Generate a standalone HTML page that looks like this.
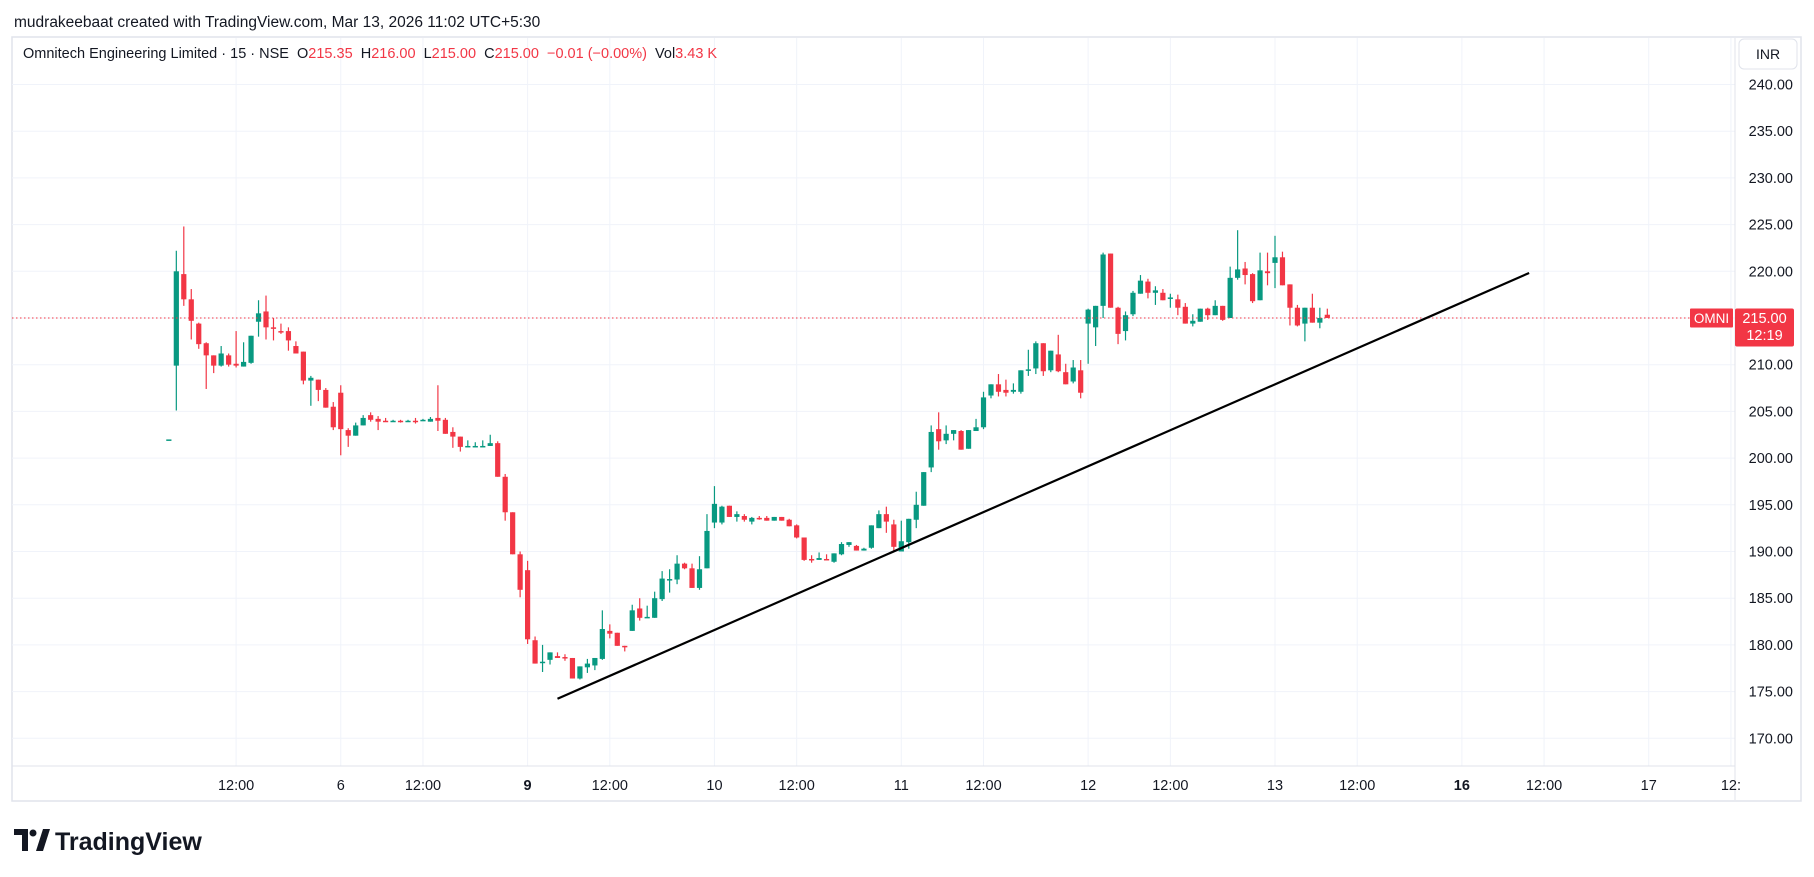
<!DOCTYPE html>
<html><head><meta charset="utf-8"><style>
html,body{margin:0;padding:0;background:#fff;width:1814px;height:877px;overflow:hidden}
svg{display:block;font-family:"Liberation Sans",sans-serif}
</style></head><body>
<svg id="chart" width="1814" height="877" viewBox="0 0 1814 877" xmlns="http://www.w3.org/2000/svg">
<text x="14" y="27" font-size="15.5" fill="#131722">mudrakeebaat created with TradingView.com, Mar 13, 2026 11:02 UTC+5:30</text>
<rect x="12" y="37" width="1789" height="764" fill="#fff" stroke="#e0e3eb" stroke-width="1.5"/>
<g id="grid"></g>
<line x1="1735" y1="38" x2="1735" y2="800" stroke="#e0e3eb"/>
<line x1="12" y1="766" x2="1735" y2="766" stroke="#e0e3eb"/>
<g id="candles"></g>
<g id="overlay"></g>
<g id="axes"></g>
<text x="23" y="58" font-size="14.5" fill="#131722" style="white-space:pre" xml:space="preserve">Omnitech Engineering Limited · 15 · NSE  O<tspan fill="#f23645">215.35</tspan>  H<tspan fill="#f23645">216.00</tspan>  L<tspan fill="#f23645">215.00</tspan>  C<tspan fill="#f23645">215.00</tspan>  <tspan fill="#f23645">−0.01 (−0.00%)</tspan>  Vol<tspan fill="#f23645">3.43 K</tspan></text>
<g>
<rect x="1739" y="39" width="58" height="30" rx="5" fill="#fff" stroke="#e0e3eb"/>
<text x="1768" y="59" font-size="14" fill="#131722" text-anchor="middle">INR</text>
</g>
<g>
<path d="M14 829 h14 v22 h-6 v-16 h-8z" fill="#131722"/>
<circle cx="33" cy="833" r="3.5" fill="#131722"/>
<path d="M36 851 l7 -22 h7 l-7 22z" fill="#131722"/>
<text x="55" y="850" font-size="25" font-weight="bold" fill="#131722">TradingView</text>
</g>
</svg>
<script>
const startIndex = 2;
const opens = [202.0,209.9,219.7,217.0,214.4,212.3,211.0,209.9,211.0,210.1,209.8,210.2,214.6,215.7,214.0,213.6,213.6,212.0,211.4,208.3,208.4,207.3,205.5,
207.0,203.0,202.4,203.5,204.6,204.2,204.0,203.9,204.0,203.9,204.0,204.0,203.9,204.3,204.1,202.8,202.3,201.2,201.2,201.2,201.3,201.6,198.0,194.2,189.7,
188.0,180.5,178.1,178.4,178.8,178.7,178.6,176.4,177.6,177.8,178.5,181.5,181.3,179.9,181.5,183.9,182.9,182.9,184.9,187.0,187.0,188.7,188.2,186.1,188.2,
193.1,193.1,194.9,193.7,193.8,193.2,193.6,193.6,193.3,193.7,193.4,192.8,191.5,189.2,189.1,189.2,188.9,189.7,190.7,190.6,190.1,190.4,192.5,194.0,192.9,
190.0,191.0,193.4,194.9,199.0,203.1,201.9,202.6,202.9,201.0,202.9,203.3,206.7,207.9,207.3,207.1,207.1,209.4,209.6,212.3,209.4,211.1,209.2,208.2,209.4,
214.4,214.0,216.3,221.9,216.1,213.6,215.4,217.6,218.9,217.7,217.7,217.15,217.0,216.2,214.4,214.6,216.0,215.3,216.3,215.0,219.3,220.3,219.7,216.9,220.0,
220.9,221.5,218.6,216.1,214.4,216.1,214.5,215.35];
const highs = [202.0,222.2,224.8,218.1,214.5,212.4,211.0,212.0,211.2,213.6,212.4,213.1,216.9,217.4,215.0,214.4,214.0,212.5,211.4,208.8,208.4,207.5,206.0,
207.8,203.2,203.8,204.6,204.9,204.5,204.3,204.1,204.1,204.1,204.3,204.2,204.4,207.8,204.3,203.3,202.3,201.9,201.7,201.9,202.5,201.8,198.3,194.2,190.0,
189.0,180.9,180.0,179.2,179.2,179.0,178.6,177.7,178.5,178.6,183.7,182.2,181.3,179.9,184.3,185.0,184.2,185.7,187.9,188.1,189.6,188.8,188.7,189.5,194.0,
197.0,194.9,194.9,194.3,194.0,193.7,193.8,193.8,193.7,193.7,193.5,192.9,191.5,189.6,189.9,189.7,189.8,191.0,191.0,190.7,190.4,192.8,194.4,194.8,193.4,
193.3,193.5,196.4,198.5,203.5,204.9,203.5,203.0,203.0,203.0,204.2,207.1,207.9,209.0,208.4,208.0,209.4,211.6,212.5,212.3,211.5,213.2,210.1,210.5,210.5,
216.0,216.3,222.0,221.9,216.2,215.7,217.9,219.6,219.2,218.4,218.1,217.6,217.5,216.6,215.4,216.0,216.1,216.9,216.3,220.5,224.4,221.0,219.8,222.0,222.0,
223.8,222.1,218.6,216.4,216.1,217.6,216.1,216.0];
const lows = [202.0,205.1,216.3,212.7,211.7,207.4,209.1,209.8,209.8,209.7,209.8,210.1,213.0,212.7,212.6,213.3,211.5,211.2,207.9,205.6,206.1,205.4,203.0,
200.3,201.2,202.4,203.5,203.9,203.0,203.9,203.9,203.8,203.9,203.7,204.0,203.9,202.9,202.6,201.1,200.7,201.2,201.2,201.2,201.3,198.0,193.3,189.7,185.1,
180.1,178.0,177.1,177.9,178.6,178.3,176.4,176.3,177.0,177.3,178.4,180.7,179.9,179.3,181.5,182.6,182.9,182.9,184.7,185.6,186.5,188.1,186.1,185.9,188.2,
192.5,192.9,193.7,193.2,193.2,192.9,193.4,193.3,193.3,193.3,192.7,191.4,189.0,188.8,189.1,189.1,188.8,189.6,190.5,190.1,190.1,190.3,192.5,192.0,190.1,
190.0,190.3,192.5,194.9,198.5,200.9,201.5,201.9,200.9,201.0,202.9,203.1,206.4,206.6,206.6,206.9,206.9,208.8,209.0,208.8,209.2,209.2,207.9,208.0,206.4,
210.1,212.0,215.0,216.1,212.2,212.6,215.2,217.6,217.1,216.4,216.9,216.1,215.3,214.4,214.1,214.6,214.8,215.3,214.7,215.0,219.1,218.6,216.6,216.9,218.5,
218.2,218.5,214.2,214.1,212.5,214.5,213.9,215.0];
const closes = [202.0,220.0,217.0,214.7,212.2,211.0,209.9,211.2,210.0,209.9,210.3,213.1,215.5,214.0,213.9,213.5,212.6,211.2,208.3,208.6,207.3,205.4,203.3,
203.1,202.4,203.5,204.3,204.1,203.9,203.9,204.0,203.9,204.0,203.9,204.1,204.2,204.0,202.6,202.3,201.2,201.3,201.3,201.3,201.6,198.0,194.2,189.7,185.9,
180.6,178.0,178.2,179.2,178.6,178.6,176.4,177.7,178.0,178.6,181.7,181.2,179.9,179.8,183.7,182.9,183.0,185.0,187.1,187.05,188.7,188.2,186.1,188.1,192.2,
195.1,194.8,193.7,194.0,193.4,193.6,193.5,193.3,193.7,193.3,192.7,191.5,189.1,189.1,189.3,189.1,189.8,190.8,191.0,190.1,190.3,192.8,194.0,193.2,190.5,
191.1,193.5,195.0,198.5,202.8,201.8,202.6,203.0,200.9,203.0,203.3,206.5,207.9,207.1,207.0,207.3,209.4,209.5,212.3,209.3,211.5,209.3,207.9,209.7,207.0,
215.9,216.3,221.8,216.1,213.3,215.3,217.7,219.0,217.7,217.96,216.9,217.2,216.1,214.4,214.7,216.0,215.3,216.3,214.8,219.3,220.2,219.6,216.8,220.1,219.8,
221.5,218.5,216.1,214.2,216.1,214.5,215.0,215.0];
const priceTicks = [240,235,230,225,220,215,210,205,200,195,190,185,180,175,170];
const timeTickIndex = [11,25,36,50,61,75,86,100,111,125,136,150,161,175,186,200,211];
const timeTickLabels = ["12:00","6","12:00","9","12:00","10","12:00","11","12:00","12","12:00","13","12:00","16","12:00","17","12:"];
const timeTickBold = [false,false,false,true,false,false,false,false,false,false,false,false,false,true,false,false,false];
const trendIndex = [54.0,184.0];
const trendPrice = [174.23,219.82];
const lastPrice = 215.00;

const NS="http://www.w3.org/2000/svg";
function xs(i){return 153.9+i*7.474;}
function ys(p){return 84.5+(240-p)*9.34;}
function mk(tag,attrs,parent){const e=document.createElementNS(NS,tag);for(const k in attrs)e.setAttribute(k,attrs[k]);parent.appendChild(e);return e;}
const grid=document.getElementById('grid'),cg=document.getElementById('candles'),ov=document.getElementById('overlay'),ax=document.getElementById('axes');
priceTicks.forEach(p=>{
  const l=mk('line',{x1:12,x2:1735,y1:ys(p),y2:ys(p),stroke:'#f0f3fa','stroke-width':1},grid);
  
  
  const t=mk('text',{x:1793,y:ys(p)+5,'font-size':14.5,fill:'#131722','text-anchor':'end'},ax);
  t.textContent=p.toFixed(2);
  
  
});
timeTickIndex.forEach((i,k)=>{
  const x=xs(i);
  if(x<1735){const l=mk('line',{x1:x,x2:x,y1:38,y2:766,stroke:'#f0f3fa','stroke-width':1},grid);
  
  }
  const t=mk('text',{x:x,y:790,'font-size':14.5,fill:'#131722','text-anchor':'middle','font-weight':timeTickBold[k]?'bold':'normal'},ax);
  t.textContent=timeTickLabels[k];
  
  
});
opens.forEach((o,k)=>{
  const i=startIndex+k,c=closes[k],h=highs[k],lo=lows[k];
  const col=c>=o?'#089981':'#f23645';const x=xs(i);
  const w=mk('line',{x1:x,x2:x,y1:ys(h),y2:ys(lo),stroke:col,'stroke-width':1.2},cg);
  
  
  const top=ys(Math.max(o,c)),bh=Math.max(1.5,Math.abs(ys(o)-ys(c)));
  const b=mk('rect',{x:x-2.6,y:top,width:5.2,height:bh,fill:col},cg);
  
  
});
const pl=mk('line',{x1:12,x2:1690,y1:ys(lastPrice),y2:ys(lastPrice),stroke:'#f23645','stroke-width':1,'stroke-dasharray':'1.5 2.5'},ov);


const tl=mk('line',{x1:xs(trendIndex[0]),y1:ys(trendPrice[0]),x2:xs(trendIndex[1]),y2:ys(trendPrice[1]),stroke:'#000','stroke-width':2.2},ov);


const yl=ys(lastPrice);
const tag=mk('rect',{x:1690,y:yl-9.5,width:43,height:19,fill:'#f23645',rx:1},ax);


const tt=mk('text',{x:1711.5,y:yl+5,'font-size':13.5,fill:'#fff','text-anchor':'middle'},ax);tt.textContent='OMNI';


const pb=mk('rect',{x:1735,y:yl-9.5,width:59,height:38,fill:'#f23645',rx:2},ax);


const pt=mk('text',{x:1764.5,y:yl+5,'font-size':14.5,fill:'#fff','text-anchor':'middle'},ax);pt.textContent=lastPrice.toFixed(2);


const ct=mk('text',{x:1764.5,y:yl+22,'font-size':14.5,fill:'#fff','text-anchor':'middle'},ax);ct.textContent='12:19';


</script>
</body></html>
